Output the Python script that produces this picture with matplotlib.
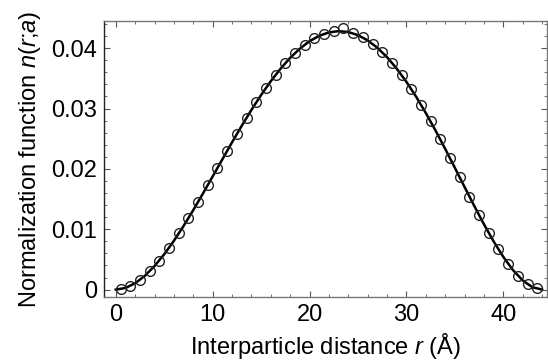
import matplotlib
matplotlib.use("Agg")
import matplotlib.pyplot as plt
from matplotlib.ticker import MultipleLocator

plt.rcParams['font.family'] = ['Liberation Sans', 'DejaVu Sans']
plt.rcParams['mathtext.fontset'] = 'custom'
plt.rcParams['mathtext.rm'] = 'Liberation Sans'
plt.rcParams['mathtext.it'] = 'Liberation Sans:italic'

# smooth curve, read at whole-angstrom steps
r_curve = list(range(0, 45))
n_curve = [0.0, 0.00027, 0.00105, 0.00228, 0.0039, 0.00585, 0.00808, 0.01054,
           0.01317, 0.01592, 0.01874, 0.02157, 0.02439, 0.02713, 0.02976,
           0.03223, 0.03452, 0.03658, 0.03839, 0.03992, 0.04115, 0.04205,
           0.04261, 0.04282, 0.04267, 0.04216, 0.04129, 0.04007, 0.0385,
           0.03661, 0.03442, 0.03196, 0.02926, 0.02637, 0.02332, 0.02018,
           0.01701, 0.01387, 0.01083, 0.00799, 0.00542, 0.00323, 0.00152,
           0.0004, 0.0]

# open circles (histogram points) at half-angstrom centres
r_pts = [0.5, 1.5, 2.5, 3.5, 4.5, 5.5, 6.5, 7.5, 8.5, 9.5, 10.5, 11.5, 12.5,
         13.5, 14.5, 15.5, 16.5, 17.5, 18.5, 19.5, 20.5, 21.5, 22.5, 23.5,
         24.5, 25.5, 26.5, 27.5, 28.5, 29.5, 30.5, 31.5, 32.5, 33.5, 34.5,
         35.5, 36.5, 37.5, 38.5, 39.5, 40.5, 41.5, 42.5, 43.5]
n_pts = [0.00007, 0.0006, 0.0016, 0.003, 0.0048, 0.0069, 0.0093, 0.0118,
         0.0145, 0.0173, 0.0202, 0.023, 0.0258, 0.0285, 0.031, 0.0334, 0.0356,
         0.0375, 0.0392, 0.0406, 0.0417, 0.0424, 0.0428, 0.0434, 0.0425,
         0.0418, 0.0407, 0.0393, 0.0376, 0.0356, 0.0332, 0.0306, 0.0279,
         0.0249, 0.0218, 0.0186, 0.0154, 0.0123, 0.0094, 0.0067, 0.0043,
         0.0023, 0.0009, 0.0002]

fig = plt.figure(figsize=(5.48, 3.62), dpi=100)
ax = fig.add_axes([0.19, 0.18, 0.808, 0.762])

ax.plot(r_curve, n_curve, color='black', lw=1.8, zorder=2)
ax.plot(r_pts, n_pts, 'o', mfc='none', mec='#222222', mew=1.0, ms=7, zorder=3)

ax.set_xlim(-1.2, 44.5)
ax.set_ylim(-0.0012, 0.0445)
ax.xaxis.set_major_locator(MultipleLocator(10))
ax.xaxis.set_minor_locator(MultipleLocator(2))
ax.yaxis.set_major_locator(MultipleLocator(0.01))
ax.yaxis.set_minor_locator(MultipleLocator(0.002))
ax.set_yticks([0, 0.01, 0.02, 0.03, 0.04])
ax.set_yticklabels(['0', '0.01', '0.02', '0.03', '0.04'])

ax.tick_params(which='both', direction='in', top=True, right=True,
               colors='#555555', labelcolor='black', labelsize=17, pad=5)
ax.tick_params(which='major', length=4, width=0.8)
ax.tick_params(which='minor', length=2, width=0.6)

for s in ['top', 'bottom', 'right']:
    ax.spines[s].set_color('#777777')
ax.spines['left'].set_color('#222222')
for s in ax.spines.values():
    s.set_linewidth(1.0)

ax.set_xlabel('Interparticle distance $\\mathit{r}$ (Å)', fontsize=17, labelpad=4)
ax.set_ylabel('Normalization function $\\mathit{n(r}$;$\\mathit{a)}$',
              fontsize=17, labelpad=6)

fig.savefig('out.png', dpi=100)
